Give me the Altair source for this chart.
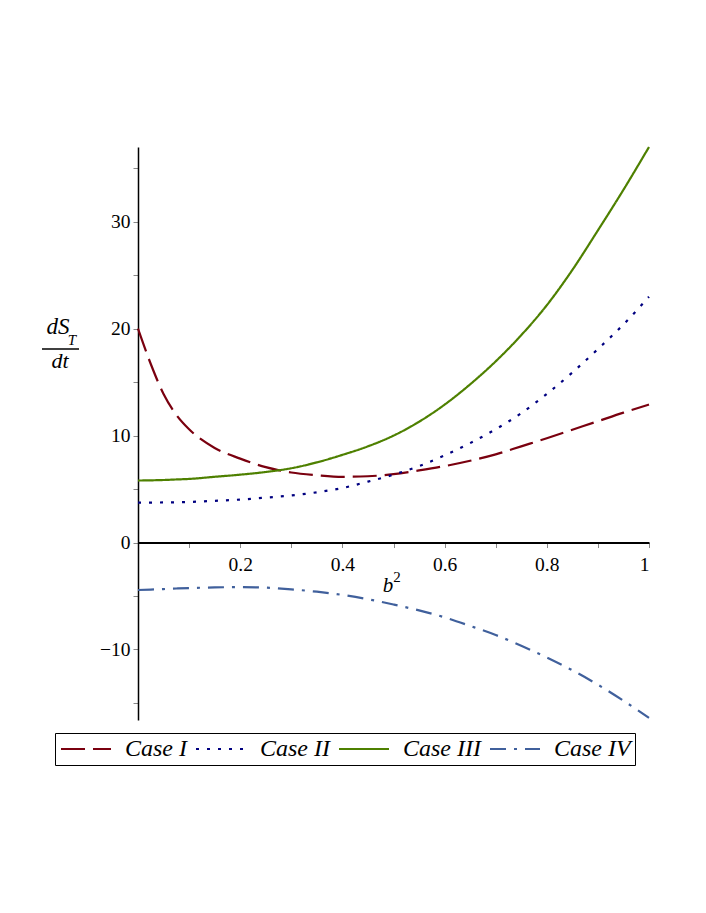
import altair as alt
import pandas as pd

b2 = [0, 0.025, 0.05, 0.075, 0.1, 0.15, 0.2, 0.25, 0.3, 0.35, 0.4, 0.45, 0.5,
      0.55, 0.6, 0.65, 0.7, 0.75, 0.8, 0.85, 0.9, 0.95, 1.0]
case1 = [20.0, 16.7, 13.9, 11.95, 10.6, 8.85, 7.85, 7.05, 6.55, 6.3, 6.15, 6.2, 6.4,
         6.75, 7.15, 7.65, 8.25, 9.0, 9.75, 10.55, 11.35, 12.15, 12.9]
case2 = [3.73, 3.74, 3.75, 3.77, 3.8, 3.9, 4.02, 4.2, 4.4, 4.7, 5.1, 5.7, 6.35,
         7.15, 8.15, 9.3, 10.6, 12.1, 13.9, 15.9, 18.1, 20.4, 23.0]
case3 = [5.8, 5.82, 5.85, 5.9, 5.95, 6.15, 6.35, 6.6, 6.95, 7.5, 8.2, 9.0, 10.0,
         11.3, 12.9, 14.8, 16.95, 19.4, 22.2, 25.5, 29.2, 33.0, 37.0]
case4 = [-4.44, -4.4, -4.35, -4.3, -4.26, -4.2, -4.17, -4.22, -4.38, -4.6, -4.9, -5.3, -5.8,
         -6.35, -7.0, -7.8, -8.65, -9.65, -10.75, -11.95, -13.3, -14.8, -16.4]

case_names = ["Case I", "Case II", "Case III", "Case IV"]
case_colors = ["#7a000f", "#000080", "#4e8000", "#40609c"]
case_dashes = [[24, 8], [3, 8], [1, 0], [16, 8, 3, 8]]

x_ticks = [0.1, 0.2, 0.3, 0.4, 0.5, 0.6, 0.7, 0.8, 0.9, 1.0]
y_ticks = [-15, -10, -5, 0, 5, 10, 15, 20, 25, 30, 35]

rows = []
for name, vals in zip(case_names, [case1, case2, case3, case4]):
    for xv, yv in zip(b2, vals):
        rows.append({"b2": xv, "v": yv, "case": name})
df = pd.DataFrame(rows)

SERIF = "Liberation Serif"
W, H = 511, 573
YMIN, YMAX = -16.6, 37.0
x_axis_offset = -(H - H * (YMAX - 0) / (YMAX - YMIN))

lines = alt.Chart(df).mark_line(strokeWidth=2.2, interpolate="monotone", strokeCap="butt").encode(
    x=alt.X("b2:Q", scale=alt.Scale(domain=[0, 1], nice=False, zero=False),
            axis=alt.Axis(values=x_ticks, format="~g", offset=x_axis_offset, title=None,
                          labelExpr="(round(datum.value*10) % 2 == 0) ? datum.label : ''",
                          tickSize=5, labelPadding=8, domainWidth=2)),
    y=alt.Y("v:Q", scale=alt.Scale(domain=[YMIN, YMAX], nice=False, zero=False),
            axis=alt.Axis(values=y_ticks, title=None, tickSize=5, labelPadding=3,
                          labelExpr="(datum.value % 10 == 0) ? datum.label : ''")),
    color=alt.Color("case:N", scale=alt.Scale(domain=case_names, range=case_colors),
                    legend=alt.Legend(title=None, orient="none", legendX=-83, legendY=586,
                                      direction="horizontal", columns=4,
                                      strokeColor="black", padding=4,
                                      symbolType="M-2.5,0H2.5", symbolSize=400,
                                      symbolOffset=15,
                                      symbolStrokeWidth=2.2, labelFont=SERIF,
                                      labelFontSize=24, labelFontStyle="italic",
                                      labelColor="black", labelOffset=27,
                                      columnPadding=4, labelLimit=200)),
    strokeDash=alt.StrokeDash("case:N", scale=alt.Scale(domain=case_names, range=case_dashes),
                              legend=None),
)


def label(txt, x, y, size, style="italic"):
    return alt.Chart(pd.DataFrame({"t": [txt]})).mark_text(
        font=SERIF, fontSize=size, fontStyle=style, align="center",
        baseline="alphabetic", color="black"
    ).encode(x=alt.value(x), y=alt.value(y), text="t:N")


ds = label("dS", -80, 187, 23)
sub = label("T", -66, 198, 15)
bar = alt.Chart(pd.DataFrame({"t": [1]})).mark_rule(color="black", strokeWidth=1.3).encode(
    x=alt.value(-96), x2=alt.value(-59), y=alt.value(202))
dt = label("dt", -78, 221, 22)
xb = label("b", 250, 445, 21)
xsup = label("2", 259, 435, 15, "normal")

chart = alt.layer(lines, ds, sub, bar, dt, xb, xsup).properties(
    width=W, height=H,
    autosize=alt.AutoSizeParams(type="none"),
    padding={"left": 130, "top": 139, "right": 45, "bottom": 70},
).configure_view(stroke=None).configure_axis(
    grid=False, domainColor="black", domainWidth=1.5, tickColor="#888888",
    labelFont=SERIF, labelFontSize=19.5, labelColor="black",
)

chart.save("out.html", embed_options={"renderer": "svg", "actions": False})
